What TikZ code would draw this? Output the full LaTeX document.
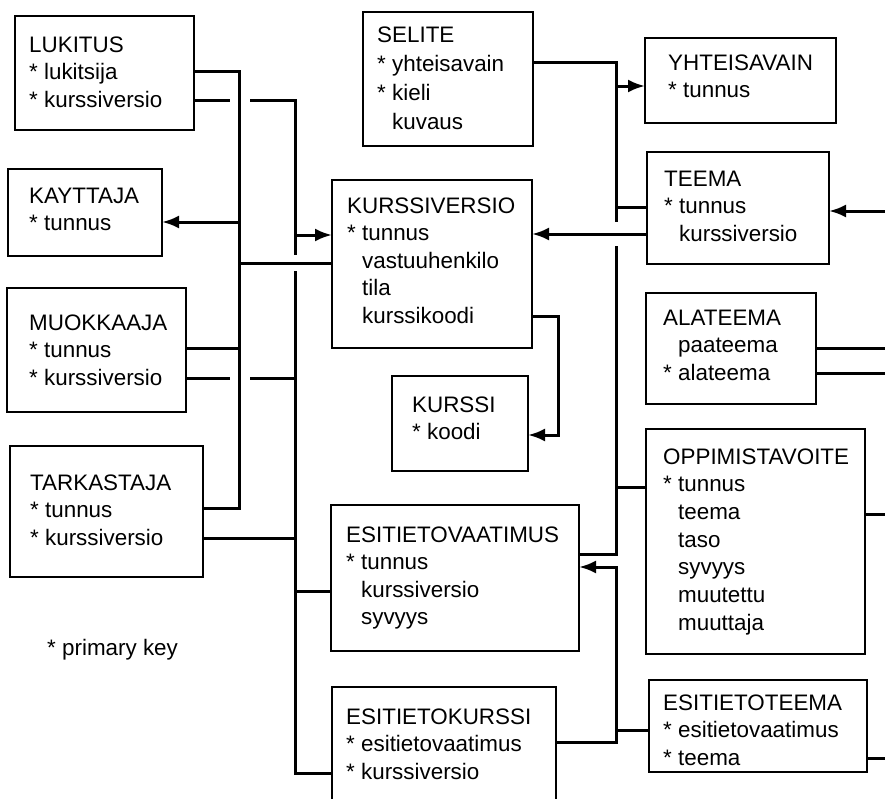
\documentclass[tikz,border=0pt]{standalone}
\usepackage{fontspec}
\setmainfont{Liberation Sans}
\usetikzlibrary{arrows.meta}
\newcommand{\erows}[1]{\begin{tabular}[t]{@{}l@{}}#1\end{tabular}}
\newcommand{\ind}{\hphantom{*}\ }
\newcommand{\pk}{{*}\ }
\begin{document}
\begin{tikzpicture}[x=1pt,y=-1pt,
  ebox/.style={draw, line width=2.1pt, rectangle, inner sep=0, outer sep=0, anchor=north west},
  etext/.style={anchor=base west, inner sep=0, font=\fontsize{22.4}{27.5}\selectfont},
  link/.style={line width=3pt},
  arr/.style={link, -{Latex[length=17pt,width=13pt]}}]
\fill[white] (0,0) rectangle (885,798);
\useasboundingbox (0,0) rectangle (885,798);
\clip (0,0) rectangle (885,798);

% boxes
\node[ebox, minimum width=179pt, minimum height=114pt] (lukitus) at (15,16) {};
\node[ebox, minimum width=154pt, minimum height=87pt] (kayttaja) at (8,169) {};
\node[ebox, minimum width=179pt, minimum height=124pt] (muokkaaja) at (7,288) {};
\node[ebox, minimum width=193pt, minimum height=131pt] (tarkastaja) at (10,446) {};
\node[ebox, minimum width=170pt, minimum height=134pt] (selite) at (363,12) {};
\node[ebox, minimum width=191pt, minimum height=85pt] (yhteisavain) at (645,38) {};
\node[ebox, minimum width=182pt, minimum height=112pt] (teema) at (647,152) {};
\node[ebox, minimum width=200pt, minimum height=168pt] (kurssiversio) at (332,180) {};
\node[ebox, minimum width=136pt, minimum height=95pt] (kurssi) at (392,376) {};
\node[ebox, minimum width=170pt, minimum height=111pt] (alateema) at (646,293) {};
\node[ebox, minimum width=219pt, minimum height=225pt] (oppimistavoite) at (646,429) {};
\node[ebox, minimum width=248pt, minimum height=146pt] (esitietovaatimus) at (331,505) {};
\node[ebox, minimum width=224pt, minimum height=140pt] (esitietokurssi) at (332,687) {};
\node[ebox, minimum width=218pt, minimum height=92pt] (esitietoteema) at (649,680) {};

% texts
\node[etext] (lukitus-t) at (29,52) {\erows{LUKITUS\\\pk lukitsija\\\pk kurssiversio}};
\node[etext] (kayttaja-t) at (29,203) {\erows{KAYTTAJA\\\pk tunnus}};
\node[etext] (muokkaaja-t) at (29,330) {\erows{MUOKKAAJA\\\pk tunnus\\\pk kurssiversio}};
\node[etext] (tarkastaja-t) at (30,490) {\erows{TARKASTAJA\\\pk tunnus\\\pk kurssiversio}};
\node[etext, font=\fontsize{22.4}{29}\selectfont] (selite-t) at (377,42) {\erows{SELITE\\\pk yhteisavain\\\pk kieli\\\ind kuvaus}};
\node[etext] (yhteisavain-t) at (668,70) {\erows{YHTEISAVAIN\\\pk tunnus}};
\node[etext] (teema-t) at (664,186) {\erows{TEEMA\\\pk tunnus\\\ind kurssiversio}};
\node[etext] (kurssiversio-t) at (347,213) {\erows{KURSSIVERSIO\\\pk tunnus\\\ind vastuuhenkilo\\\ind tila\\\ind kurssikoodi}};
\node[etext] (kurssi-t) at (412,412) {\erows{KURSSI\\\pk koodi}};
\node[etext] (alateema-t) at (663,325) {\erows{ALATEEMA\\\ind paateema\\\pk alateema}};
\node[etext, font=\fontsize{22.4}{27.7}\selectfont] (oppimistavoite-t) at (663,464) {\erows{OPPIMISTAVOITE\\\pk tunnus\\\ind teema\\\ind taso\\\ind syvyys\\\ind muutettu\\\ind muuttaja}};
\node[etext] (esitietovaatimus-t) at (346,542) {\erows{ESITIETOVAATIMUS\\\pk tunnus\\\ind kurssiversio\\\ind syvyys}};
\node[etext] (esitietokurssi-t) at (346,724) {\erows{ESITIETOKURSSI\\\pk esitietovaatimus\\\pk kurssiversio}};
\node[etext] (esitietoteema-t) at (663,710) {\erows{ESITIETOTEEMA\\\pk esitietovaatimus\\\pk teema}};
\node[etext] (legend) at (47,655) {\pk primary key};

% bus coordinates and free ends
\coordinate (bA) at (239,0);
\coordinate (bB) at (295,0);
\coordinate (bC) at (616,0);
\coordinate (gA1) at (230,100);
\coordinate (gA2) at (250,100);
\coordinate (gB1) at (230,378);
\coordinate (gB2) at (250,378);
\coordinate (kk1) at (558,316);
\coordinate (kk2) at (558,435);
\coordinate (eTeema) at (885,211);
\coordinate (eAla1) at (885,348);
\coordinate (eAla2) at (885,373);
\coordinate (eOpp) at (885,514);
\coordinate (eEst) at (885,758);

% bus A
\draw[link] (lukitus.east |- 0,71) -- (bA |- 0,71) -- (bA |- 0,508) -- (tarkastaja.east |- 0,508);
\draw[arr] (bA |- 0,222) -- (kayttaja.east |- 0,222);
\draw[link] (bA |- 0,263) -- (kurssiversio.west |- 0,263);
\draw[link] (muokkaaja.east |- 0,348) -- (bA |- 0,348);

% bus B
\draw[link] (lukitus.east |- gA1) -- (gA1);
\draw[link] (gA2) -- (bB |- gA2) -- (bB |- 0,255);
\draw[arr] (bB |- 0,235) -- (kurssiversio.west |- 0,235);
\draw[link] (bB |- 0,271) -- (bB |- 0,773) -- (esitietokurssi.west |- 0,773);
\draw[link] (muokkaaja.east |- gB1) -- (gB1);
\draw[link] (gB2) -- (bB |- gB2);
\draw[link] (tarkastaja.east |- 0,538) -- (bB |- 0,538);
\draw[link] (bB |- 0,591) -- (esitietovaatimus.west |- 0,591);

% kurssikoodi
\draw[arr] (kurssiversio.east |- kk1) -- (kk1) -- (kk2) -- (kurssi.east |- kk2);

% bus C
\draw[link] (selite.east |- 0,62) -- (bC |- 0,62) -- (bC |- 0,222);
\draw[link] (bC |- 0,246) -- (bC |- 0,554) -- (esitietovaatimus.east |- 0,554);
\draw[arr] (bC |- 0,86) -- (yhteisavain.west |- 0,86);
\draw[link] (bC |- 0,207) -- (teema.west |- 0,207);
\draw[arr] (teema.west |- 0,234) -- (kurssiversio.east |- 0,234);
\draw[link] (bC |- 0,487) -- (oppimistavoite.west |- 0,487);
\draw[arr] (esitietokurssi.east |- 0,742) -- (bC |- 0,742) -- (bC |- 0,567) -- (esitietovaatimus.east |- 0,567);
\draw[link] (bC |- 0,730) -- (esitietoteema.west |- 0,730);

% right edge stubs
\draw[arr] (eTeema) -- (teema.east |- eTeema);
\draw[link] (alateema.east |- eAla1) -- (eAla1);
\draw[link] (alateema.east |- eAla2) -- (eAla2);
\draw[link] (oppimistavoite.east |- eOpp) -- (eOpp);
\draw[link] (esitietoteema.east |- eEst) -- (eEst);
\end{tikzpicture}
\end{document}
